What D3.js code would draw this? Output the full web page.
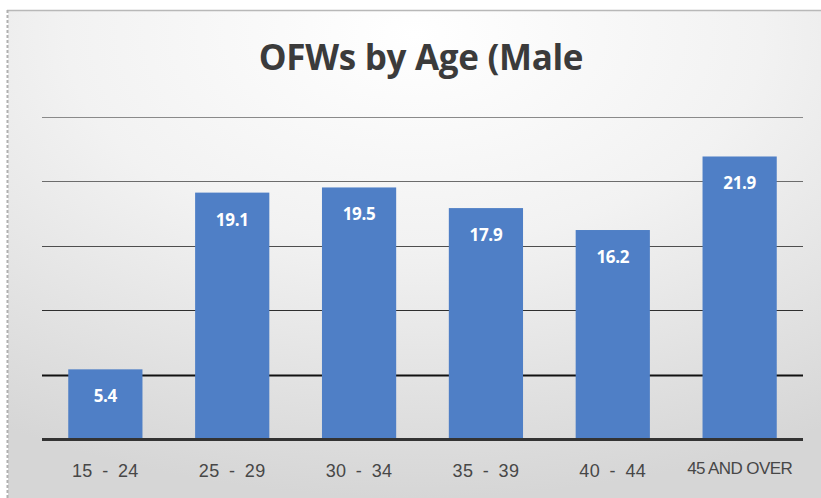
<!DOCTYPE html>
<html>
<head>
<meta charset="utf-8">
<script src="https://cdn.jsdelivr.net/npm/d3@7"></script>
<style>
  body { margin: 0; background: #fff; }
  svg { display: block; }
</style>
</head>
<body>
<svg width="821" height="498"></svg>
<script>
var categories = ["15 - 24", "25 - 29", "30 - 34", "35 - 39", "40 - 44", "45 AND OVER"];
var values = [5.4, 19.1, 19.5, 17.9, 16.2, 21.9];
var gridTicks = [5, 10, 15, 20, 25];

var svg = d3.select("svg"),
    width = +svg.attr("width"),
    height = +svg.attr("height");

var defs = svg.append("defs");
var bg = defs.append("radialGradient")
    .attr("id", "bg")
    .attr("cx", "50%").attr("cy", "5%").attr("r", "95%")
    .attr("gradientUnits", "objectBoundingBox");
bg.append("stop").attr("offset", "0%").attr("stop-color", "#ffffff");
bg.append("stop").attr("offset", "45%").attr("stop-color", "#f2f2f2");
bg.append("stop").attr("offset", "100%").attr("stop-color", "#d6d6d6");

// chart panel
svg.append("rect")
    .attr("x", 8).attr("y", 10)
    .attr("width", width - 8).attr("height", height - 10)
    .attr("fill", "url(#bg)");
svg.append("line")
    .attr("x1", 7).attr("x2", width).attr("y1", 10.5).attr("y2", 10.5)
    .attr("stroke", "#b8b8b8").attr("stroke-width", 1.5);
svg.append("line")
    .attr("x1", 7.5).attr("x2", 7.5).attr("y1", 10).attr("y2", height)
    .attr("stroke", "#b0b0b0").attr("stroke-width", 2)
    .attr("stroke-dasharray", "3,2");

var margin = {left: 42, right: 18, top: 116, bottom: 59};
var x = d3.scaleBand()
    .domain(categories)
    .range([margin.left, width - margin.right])
    .paddingInner(0.415)
    .paddingOuter(0.207);
var y = d3.scaleLinear()
    .domain([0, 25])
    .range([height - margin.bottom, height - margin.bottom - 322.5]);

// title
svg.append("text")
    .attr("x", 421).attr("y", 70)
    .attr("text-anchor", "middle")
    .attr("font-family", "'Open Sans', sans-serif")
    .attr("font-weight", 700)
    .attr("font-size", 35)
    .attr("letter-spacing", -0.3)
    .attr("fill", "#3b3b3b")
    .text("OFWs by Age (Male");

// gridlines
var gridColor = d3.scaleLinear().domain([5, 25]).range(["#111", "#8a8a8a"]);
svg.append("g")
    .attr("class", "grid")
  .selectAll("line")
  .data(gridTicks)
  .enter().append("line")
    .attr("x1", margin.left).attr("x2", width - margin.right)
    .attr("y1", function(d) { return Math.round(y(d)) + 0.5; })
    .attr("y2", function(d) { return Math.round(y(d)) + 0.5; })
    .attr("stroke", function(d) { return gridColor(d); })
    .attr("stroke-width", function(d) { return d < 10 ? 2 : 1.2; });

// bars
svg.append("g")
    .attr("class", "bars")
  .selectAll("rect")
  .data(values)
  .enter().append("rect")
    .attr("x", function(d, i) { return x(categories[i]); })
    .attr("y", function(d) { return y(d); })
    .attr("width", x.bandwidth())
    .attr("height", function(d) { return y(0) - y(d); })
    .attr("fill", "#4f7fc6");

// value labels
svg.append("g")
    .attr("class", "labels")
  .selectAll("text")
  .data(values)
  .enter().append("text")
    .attr("x", function(d, i) { return x(categories[i]) + x.bandwidth() / 2; })
    .attr("y", function(d) { return y(d) + 33; })
    .attr("text-anchor", "middle")
    .attr("font-family", "'Open Sans', sans-serif")
    .attr("font-weight", 700)
    .attr("font-size", 17)
    .attr("letter-spacing", -0.3)
    .attr("fill", "#fff")
    .text(function(d) { return d.toFixed(1); });

// baseline
svg.append("line")
    .attr("x1", margin.left).attr("x2", width - margin.right)
    .attr("y1", y(0) + 0.5).attr("y2", y(0) + 0.5)
    .attr("stroke", "#333").attr("stroke-width", 3);

// category axis
var xAxis = svg.append("g")
    .attr("transform", "translate(0," + y(0) + ")")
    .call(d3.axisBottom(x).tickSize(0).tickPadding(0));
xAxis.select(".domain").remove();
xAxis.selectAll("text")
    .attr("y", function(d) { return d.length > 8 ? 35 : 38; })
    .attr("dy", 0)
    .attr("font-family", "'Liberation Sans', Arial, sans-serif")
    .attr("font-size", function(d) { return d.length > 8 ? 17 : 18; })
    .attr("letter-spacing", function(d) { return d.length > 8 ? -0.6 : 0.4; })
    .attr("word-spacing", function(d) { return d.length > 8 ? 0 : 4; })
    .attr("fill", "#474747");
</script>
</body>
</html>
